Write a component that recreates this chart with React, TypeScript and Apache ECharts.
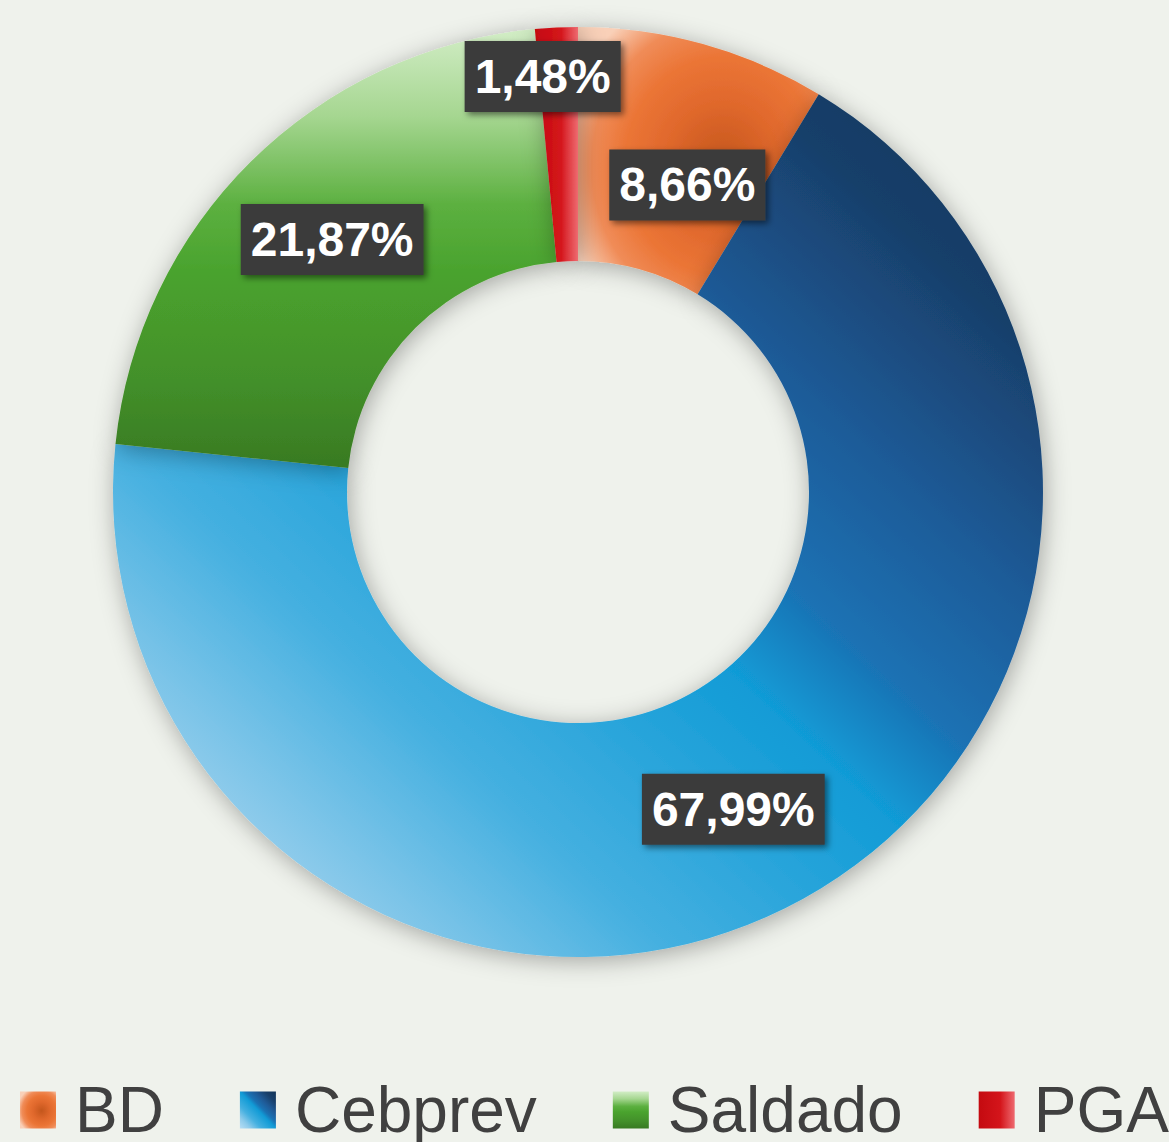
import React, { useEffect, useRef } from "react";
import * as echarts from "echarts";

const categories = ["BD", "Cebprev", "Saldado", "PGA"];
const values = [8.66, 67.99, 21.87, 1.48];
const labelTexts = ["8,66%", "67,99%", "21,87%", "1,48%"];
// Excel-style nudges of the data labels away from their default spot
const labelNudges: [number, number][] = [
  [15, 31],
  [-1, 3],
  [1, -3],
  [-19, -65],
];

const BG = "#eff2ec";

const fills = [
  new echarts.graphic.RadialGradient(0.6, 0.52, 0.68, [
    { offset: 0, color: "#c4561c" },
    { offset: 0.35, color: "#e0682c" },
    { offset: 0.6, color: "#eb7536" },
    { offset: 0.8, color: "#f08c58" },
    { offset: 1, color: "#f9d0b8" },
  ]),
  new echarts.graphic.LinearGradient(1, 0, 0, 1, [
    { offset: 0, color: "#123458" },
    { offset: 0.15, color: "#183f6a" },
    { offset: 0.3, color: "#1f5b98" },
    { offset: 0.42, color: "#1a72b4" },
    { offset: 0.5, color: "#119bd6" },
    { offset: 0.7, color: "#45b0e0" },
    { offset: 0.85, color: "#8ecbeb" },
    { offset: 1, color: "#b8def4" },
  ]),
  new echarts.graphic.LinearGradient(0, 0, 0, 1, [
    { offset: 0, color: "#d2edc6" },
    { offset: 0.2, color: "#a5d690" },
    { offset: 0.4, color: "#5cb040" },
    { offset: 0.55, color: "#4aa32e" },
    { offset: 0.8, color: "#43902a" },
    { offset: 1, color: "#387a22" },
  ]),
  new echarts.graphic.LinearGradient(0, 0, 1, 0, [
    { offset: 0, color: "#c40a10" },
    { offset: 0.6, color: "#d4151b" },
    { offset: 1, color: "#ee6a70" },
  ]),
];

export default function App() {
  const ref = useRef<HTMLDivElement>(null);

  useEffect(() => {
    if (!ref.current) return;
    const chart = echarts.init(ref.current, undefined, { renderer: "svg" });
    chart.setOption({
      animation: false,
      backgroundColor: BG,
      legend: {
        data: categories,
        left: 15,
        top: 1073,
        width: 1154,
        itemWidth: 36,
        itemHeight: 37,
        itemGap: 76,
        icon: "rect",
        textStyle: {
          fontFamily: "'Liberation Sans', Arial, sans-serif",
          fontSize: 64,
          color: "#404040",
          lineHeight: 37,
          padding: [0, 0, 0, 14],
        },
      },
      series: [
        {
          type: "pie",
          center: [578, 492],
          radius: [231, 465],
          startAngle: 90,
          clockwise: true,
          avoidLabelOverlap: false,
          data: categories.map((name, i) => ({
            name,
            value: values[i],
            itemStyle: { color: fills[i] },
          })),
          itemStyle: {
            borderWidth: 0,
            shadowBlur: 24,
            shadowColor: "rgba(0,0,0,0.32)",
            shadowOffsetX: 2,
            shadowOffsetY: 4,
          },
          label: {
            show: true,
            position: "inside",
            formatter: (p: any) => labelTexts[p.dataIndex],
            fontFamily: "'Liberation Sans', Arial, sans-serif",
            fontWeight: "bold",
            fontSize: 48,
            lineHeight: 57,
            color: "#ffffff",
            backgroundColor: "#3a3a3a",
            padding: [7, 10],
            shadowColor: "rgba(0,0,0,0.5)",
            shadowBlur: 6,
            shadowOffsetX: 3,
            shadowOffsetY: 3,
          },
          labelLine: { show: false },
          labelLayout: (p: any) => ({
            dx: labelNudges[p.dataIndex][0],
            dy: labelNudges[p.dataIndex][1],
          }),
          emphasis: { disabled: true },
        },
      ],
    });
    return () => chart.dispose();
  }, []);

  return (
    <div
      ref={ref}
      style={{
        position: "fixed",
        left: 0,
        top: 0,
        width: 1169,
        height: 1142,
        background: BG,
      }}
    />
  );
}
